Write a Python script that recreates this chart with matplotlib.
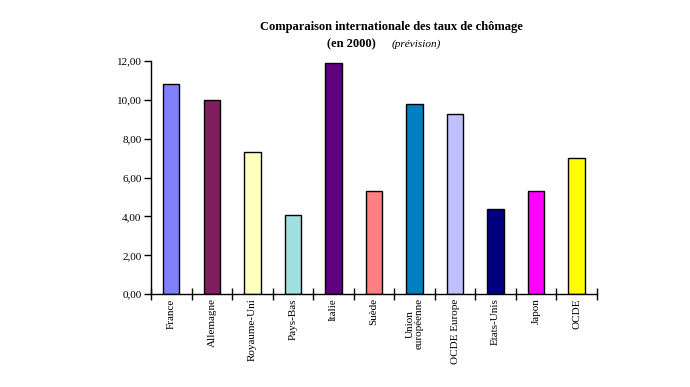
import matplotlib
matplotlib.use("Agg")
import matplotlib.pyplot as plt
from matplotlib.ticker import FuncFormatter, FixedLocator

# données : taux de chômage en 2000 (prévision)
pays = ["France", "Allemagne", "Royaume-Uni", "Pays-Bas", "Italie", "Suède",
        "Union\neuropéenne", "OCDE Europe", "Etats-Unis", "Japon", "OCDE"]
taux = [10.8, 10.0, 7.3, 4.1, 11.9, 5.3, 9.8, 9.3, 4.4, 5.3, 7.0]
couleurs = ["#8080FF", "#7F1F5F", "#FFFFC0", "#A0E0E0", "#5F007F", "#FF8080",
            "#0080C0", "#C0C0FF", "#000080", "#FF00FF", "#FFFF00"]

plt.rcParams["font.family"] = ["Liberation Serif", "DejaVu Serif"]

fig = plt.figure(figsize=(6.9, 3.87), dpi=100)
ax = fig.add_axes([0.219, 0.240, 0.646, 0.602])

x = range(len(pays))
ax.bar(x, taux, width=0.4, color=couleurs, edgecolor="black", linewidth=1)

ax.set_xlim(-0.5, len(pays) - 0.5)
ax.set_ylim(0, 12)
ax.set_yticks([0, 2, 4, 6, 8, 10, 12])
ax.yaxis.set_major_formatter(FuncFormatter(lambda v, p: f"{v:.2f}".replace(".", ",")))
ax.tick_params(axis="y", direction="out", length=5, width=1, labelsize=8, pad=2)

ax.set_xticks(list(x))
ax.set_xticklabels(pays, rotation=90, fontsize=8, va="top", linespacing=1.0)
ax.tick_params(axis="x", which="major", length=0, pad=3)
ax.xaxis.set_minor_locator(FixedLocator([i - 0.5 for i in range(len(pays) + 1)]))
ax.tick_params(axis="x", which="minor", direction="inout", length=8, width=1)

for s in ["top", "right"]:
    ax.spines[s].set_visible(False)
for s in ["left", "bottom"]:
    ax.spines[s].set_linewidth(1)

fig.text(0.568, 0.930, "Comparaison internationale des taux de chômage",
         ha="center", va="center", fontsize=9, fontweight="bold")
fig.text(0.545, 0.886, "(en 2000)", ha="right", va="center", fontsize=9, fontweight="bold")
fig.text(0.567, 0.886, "(prévision)", ha="left", va="center", fontsize=8, style="italic")

fig.savefig("out.png", dpi=100)
